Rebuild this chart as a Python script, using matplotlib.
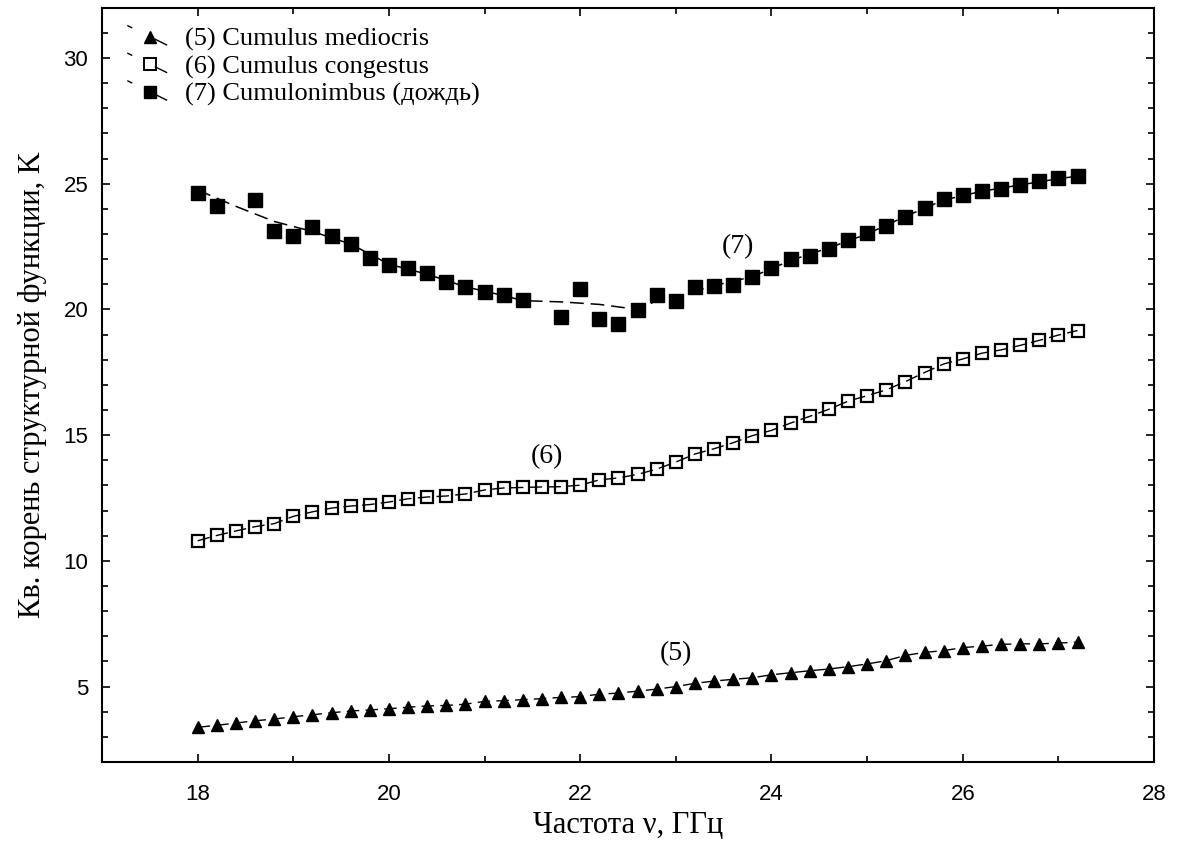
import numpy as np
import matplotlib
matplotlib.use("Agg")
import matplotlib.pyplot as plt
from matplotlib.ticker import MultipleLocator
from matplotlib.legend_handler import HandlerLine2D
from matplotlib.lines import Line2D

# Frequency grid, GHz
freq = np.round(np.arange(18.0, 27.2001, 0.2), 1)

# (5) Cumulus mediocris
cu_med = [3.38, 3.46, 3.55, 3.64, 3.71, 3.80, 3.88, 3.96, 4.03, 4.07,
          4.12, 4.18, 4.23, 4.25, 4.30, 4.41, 4.44, 4.48, 4.52, 4.57,
          4.60, 4.70, 4.74, 4.82, 4.90, 5.00, 5.13, 5.22, 5.29, 5.35,
          5.47, 5.55, 5.63, 5.70, 5.79, 5.90, 6.03, 6.24, 6.36, 6.43,
          6.55, 6.61, 6.68, 6.70, 6.70, 6.73, 6.77]

# (6) Cumulus congestus
cu_cong = [10.80, 11.01, 11.19, 11.36, 11.48, 11.77, 11.95, 12.10, 12.18, 12.24,
           12.34, 12.47, 12.54, 12.58, 12.66, 12.82, 12.90, 12.92, 12.94, 12.95,
           13.01, 13.22, 13.30, 13.44, 13.65, 13.93, 14.25, 14.46, 14.70, 14.98,
           15.19, 15.48, 15.75, 16.03, 16.35, 16.57, 16.80, 17.13, 17.49, 17.83,
           18.03, 18.26, 18.39, 18.57, 18.77, 18.98, 19.16]

# (7) Cumulonimbus (rain) - measured points
cb_freq = [18.0, 18.2, 18.6, 18.8, 19.0, 19.2, 19.4, 19.6, 19.8, 20.0,
           20.2, 20.4, 20.6, 20.8, 21.0, 21.2, 21.4, 21.8, 22.0, 22.2,
           22.4, 22.6, 22.8, 23.0, 23.2, 23.4, 23.6, 23.8, 24.0, 24.2,
           24.4, 24.6, 24.8, 25.0, 25.2, 25.4, 25.6, 25.8, 26.0, 26.2,
           26.4, 26.6, 26.8, 27.0, 27.2]
cb_rain = [24.65, 24.10, 24.35, 23.12, 22.93, 23.26, 22.93, 22.62, 22.03, 21.77,
           21.66, 21.44, 21.11, 20.91, 20.70, 20.57, 20.36, 19.70, 20.83, 19.62,
           19.43, 19.98, 20.56, 20.35, 20.91, 20.95, 20.99, 21.28, 21.64, 22.01,
           22.13, 22.42, 22.76, 23.03, 23.32, 23.69, 24.05, 24.39, 24.56, 24.73,
           24.80, 24.95, 25.11, 25.23, 25.32]

# (7) smoothed trend
cb_fit_freq = [18.0, 18.4, 18.8, 19.2, 19.6, 20.0, 20.4, 20.8, 21.2, 21.4,
               21.8, 22.2, 22.6, 22.8, 23.0, 23.4, 23.8, 24.2, 24.6, 25.0,
               25.4, 25.8, 26.2, 26.6, 27.0, 27.2]
cb_fit = [24.75, 24.10, 23.50, 23.10, 22.60, 21.80, 21.40, 20.90, 20.55, 20.35,
          20.30, 20.20, 20.00, 20.35, 20.50, 20.95, 21.30, 21.95, 22.45, 23.00,
          23.70, 24.35, 24.70, 24.95, 25.20, 25.30]

legend_labels = ["(5) Cumulus mediocris", "(6) Cumulus congestus",
                 "(7) Cumulonimbus (дождь)"]
curve_tags = ["(5)", "(6)", "(7)"]

SERIF = ["Liberation Serif", "DejaVu Serif"]
SANS = ["Liberation Sans", "DejaVu Sans"]


class SlantedLineHandler(HandlerLine2D):
    """Legend key: slanted dashed stroke with the marker in the middle."""

    def create_artists(self, legend, orig_handle, xdescent, ydescent,
                       width, height, fontsize, trans):
        x0 = -xdescent
        x1 = -xdescent + width
        ym = -ydescent + height / 2.0
        dy = height * 0.6
        stroke = Line2D([x0, x1], [ym + dy, ym - dy])
        self.update_prop(stroke, orig_handle, legend)
        stroke.set_marker("None")
        stroke.set_linewidth(1.0)
        stroke.set_dashes((4, 18, 10, 30))
        stroke.set_transform(trans)
        mark = Line2D([(x0 + x1) / 2.0], [ym])
        self.update_prop(mark, orig_handle, legend)
        mark.set_linestyle("None")
        mark.set_transform(trans)
        return [stroke, mark]


fig = plt.figure(figsize=(11.89, 8.48), dpi=100)
ax = fig.add_axes([0.0858, 0.1014, 0.8848, 0.8895])

dash = (9, 4.5)

# (5)
ax.plot(freq, cu_med, color="black", lw=1.0, dashes=dash, zorder=2)
ax.plot(freq, cu_med, ls="none", marker="^", ms=9, color="black", zorder=3)

# (6)
ax.plot(freq, cu_cong, color="black", lw=1.0, dashes=dash, zorder=2)
ax.plot(freq, cu_cong, ls="none", marker="s", ms=9, mfc="none",
        mec="black", mew=1.6, zorder=3)

# (7)
ax.plot(cb_fit_freq, cb_fit, color="black", lw=1.1, dashes=dash, zorder=2)
ax.plot(cb_freq, cb_rain, ls="none", marker="s", ms=9.5, color="black", zorder=3)

# legend proxies
h5 = Line2D([], [], color="black", marker="^", ms=8)
h6 = Line2D([], [], color="black", marker="s", ms=8, mfc="none", mew=1.4)
h7 = Line2D([], [], color="black", marker="s", ms=8.5)
leg = ax.legend([h5, h6, h7], legend_labels, loc="upper left",
                bbox_to_anchor=(0.014, 0.988), frameon=False,
                prop={"family": SERIF, "size": 19}, handlelength=1.7,
                handletextpad=0.5, labelspacing=0.14, borderaxespad=0.0,
                handler_map={Line2D: SlantedLineHandler()})

# curve tags
tag_pos = [(23.0, 6.3), (21.65, 14.15), (23.65, 22.5)]
for tag, (tx, ty) in zip(curve_tags, tag_pos):
    ax.text(tx, ty, tag, family=SERIF, fontsize=20, ha="center", va="center")

ax.set_xlim(17, 28)
ax.set_ylim(2, 32)
ax.xaxis.set_major_locator(MultipleLocator(2))
ax.xaxis.set_minor_locator(MultipleLocator(1))
ax.yaxis.set_major_locator(MultipleLocator(5))
ax.yaxis.set_minor_locator(MultipleLocator(1))
ax.tick_params(which="both", direction="in", top=True, right=True,
               width=1.2, colors="black")
ax.tick_params(which="major", length=6)
ax.tick_params(which="minor", length=4)
ax.tick_params(axis="x", which="major", pad=16)
ax.tick_params(axis="y", which="major", pad=10)
for lab in ax.get_xticklabels() + ax.get_yticklabels():
    lab.set_family(SANS)
    lab.set_fontsize(16)
for sp in ax.spines.values():
    sp.set_linewidth(1.5)

ax.set_xlabel("Частота ν, ГГц", family=SERIF, fontsize=22, labelpad=4)
ax.set_ylabel("Кв. корень структурной функции, K", family=SERIF,
              fontsize=22, labelpad=12)

fig.savefig("out.png", dpi=100)
